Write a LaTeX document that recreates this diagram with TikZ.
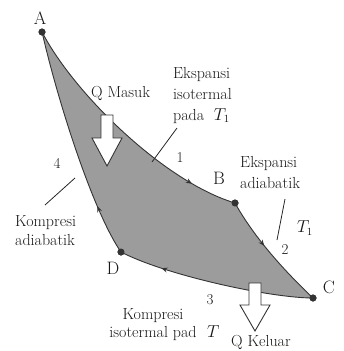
\documentclass[tikz,border=0pt]{standalone}
\usetikzlibrary{decorations.markings,arrows.meta}
\begin{document}
\begin{tikzpicture}[x=1pt,y=-1pt,
  dot/.style={circle,fill=black!80,inner sep=0pt,minimum size=7pt},
  txt/.style={font=\fontsize{16}{21}\selectfont,text=black!90,inner sep=0pt},
  num/.style={font=\fontsize{15}{18}\selectfont,text=black!90,inner sep=0pt},
  ptlbl/.style={font=\fontsize{18}{20}\selectfont,text=black!90,inner sep=0pt},
  cycleedge/.style={draw=black!80,line width=0.9pt},
  midarrow/.style={postaction={decorate},decoration={markings,
     mark=at position #1 with {\arrow{Stealth[length=6pt,width=5pt]}}}},
  leader/.style={draw=black!85,line width=0.8pt},
  hollow/.style={draw=black!80,fill=white,line width=0.9pt,line join=miter}
]
\useasboundingbox (0,0) rectangle (343,351);
% state points
\node[dot] (A) at (42,32) {};
\node[dot] (B) at (235,203) {};
\node[dot] (C) at (313,298) {};
\node[dot] (D) at (121,252) {};
% shaded region
\fill[black!39] (A.center) .. controls (75,95) and (165,182) .. (B.center)
  .. controls (250,230) and (275,262) .. (C.center)
  .. controls (270,298) and (165,275) .. (D.center)
  .. controls (95,215) and (60,110) .. (A.center) -- cycle;
% edges
\draw[cycleedge,midarrow=0.82] (A.center) .. controls (75,95) and (165,182) .. (B.center);
\draw[cycleedge,midarrow=0.42] (B.center) .. controls (250,230) and (275,262) .. (C.center);
\draw[cycleedge,midarrow=0.78] (C.center) .. controls (270,298) and (165,275) .. (D.center);
\draw[cycleedge,midarrow=0.22] (D.center) .. controls (95,215) and (60,110) .. (A.center);
% redraw dots on top
\node[dot] at (A) {};
\node[dot] at (B) {};
\node[dot] at (C) {};
\node[dot] at (D) {};
% point labels
\node[ptlbl] (lA) at (40,18) {A};
\node[ptlbl] (lB) at (219,178) {B};
\node[ptlbl] (lC) at (329,287) {C};
\node[ptlbl] (lD) at (113,268) {D};
% heat arrows
\draw[hollow] (101,115) -- (113,115) -- (113,138) -- (122,138) -- (107,166) -- (92,138) -- (101,138) -- cycle;
\draw[hollow] (249,283) -- (261,283) -- (261,305) -- (270,305) -- (255,331) -- (240,305) -- (249,305) -- cycle;
% texts
\node[txt,anchor=base west] (qin) at (91,97) {Q Masuk};
\node[txt,anchor=north west,align=left] (t1) at (173,67) {Ekspansi\\isotermal\\pada~~$T_1$};
\node[txt,anchor=north west,align=left] (t2) at (240,156) {Ekspansi\\adiabatik};
\node[txt,anchor=center] (tT) at (305,228) {$T_1$};
\node[txt,anchor=north west,align=left,font=\fontsize{16}{19}\selectfont] (t4) at (15,215) {Kompresi\\adiabatik};
\node[txt,anchor=north,align=center,font=\fontsize{16}{18}\selectfont] (t3) at (153,308) {Kompresi\\isotermal pad};
\node[txt,anchor=base west] (tT2) at (207,337) {$T$};
\node[txt,anchor=base west] (qout) at (231,346) {Q Keluar};
% numbers
\node[num] (n1) at (180,158) {1};
\node[num] (n2) at (285,250) {2};
\node[num] (n3) at (210,300) {3};
\node[num] (n4) at (57,163) {4};
% leader lines
\coordinate (e1) at (152,162);
\coordinate (s1) at (177,128);
\coordinate (e2) at (277,240);
\coordinate (s2) at (285,199);
\coordinate (e4) at (45,205);
\coordinate (s4) at (75,178);
\draw[leader] (s1) -- (e1);
\draw[leader] (s2) -- (e2);
\draw[leader] (s4) -- (e4);
\end{tikzpicture}
\end{document}
